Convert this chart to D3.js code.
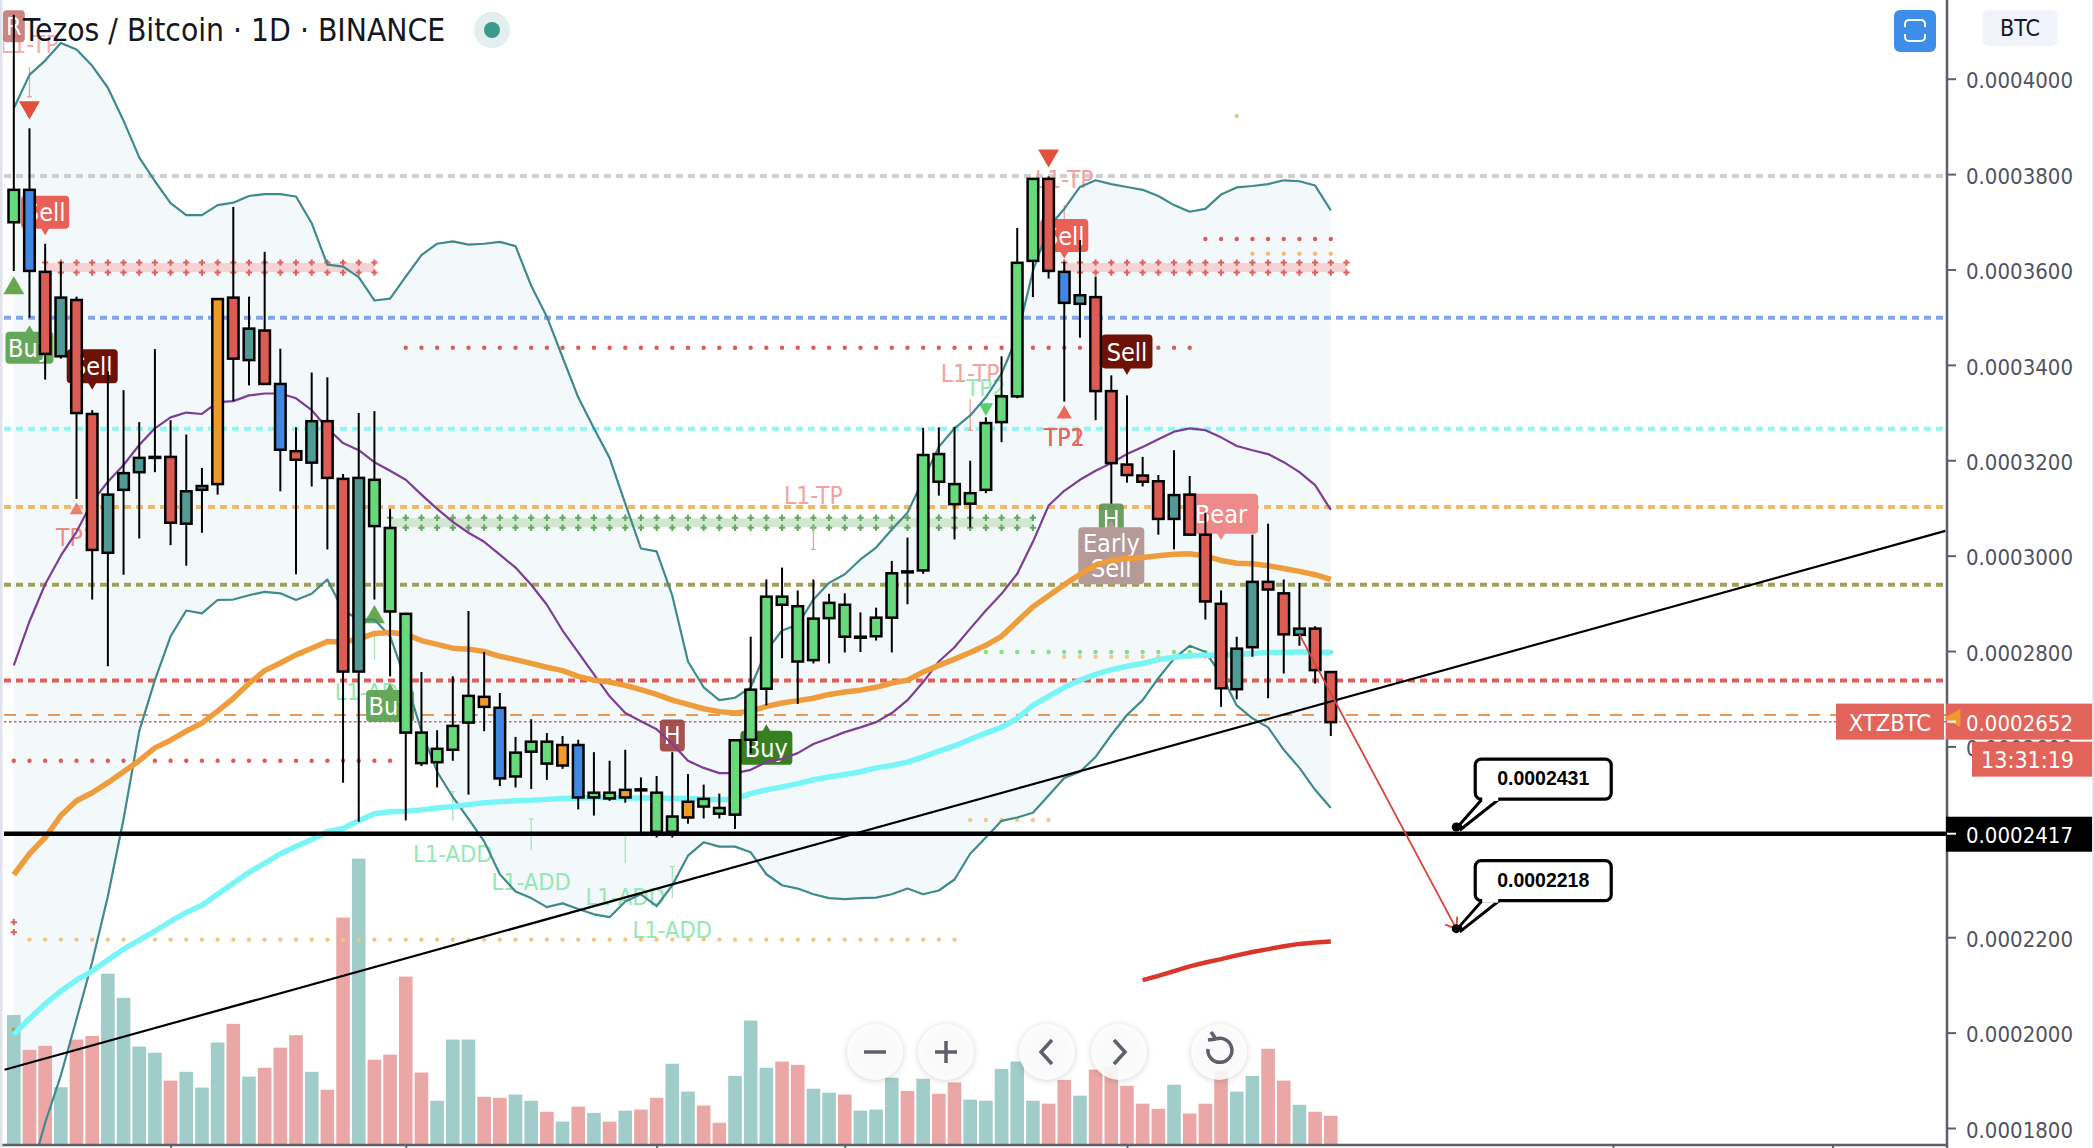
<!DOCTYPE html>
<html>
<head>
<meta charset="utf-8">
<script src="https://cdn.jsdelivr.net/npm/d3@7"></script>
<style>
  html, body { margin: 0; padding: 0; background: #fff; overflow: hidden; }
  text { font-family: "DejaVu Sans Condensed", "DejaVu Sans", sans-serif; }
</style>
</head>
<body>
<svg id="chart" width="2094" height="1148"></svg>
<script>
// all prices are in units of 1e-7 BTC
const candleKinds = [
  "g","b","r","t","r","r","t","t","t","t","r","t","t","o","r","t","r","b","r","t","r","r","t","g","g",
  "g","g","g","g","g","o","b","g","g","g","o","b","g","g","o","t","g","g","o","g","g","g","g","g","g",
  "g","g","g","g","t","g","g","t","g","g","g","g","g","g","g","g","r","b","t","r","r","r","r","r","t",
  "r","r","r","t","t","r","r","t","r","r"
];
const bodyTops = [3767,3767,3595,3541,3536,3297,3128,3173,3205,3207,3207,3135,3146,3538,3541,3476,3472,3360,3219,3282,3282,3161,3163,3159,3058,
  2878,2629,2595,2643,2706,2704,2681,2587,2610,2610,2603,2603,2503,2503,2509,2510,2503,2453,2484,2490,2471,2613,2719,2914,2914,
  2894,2868,2901,2897,2830,2870,2963,2967,3211,3213,3150,3131,3278,3334,3614,3790,3790,3595,3546,3542,3345,3191,3168,3156,3127,
  3128,3044,2899,2805,2945,2945,2921,2847,2847,2756];
const bodyBottoms = [3699,3597,3423,3418,3299,3012,3006,3138,3175,3205,3069,3067,3138,3150,3413,3410,3360,3222,3201,3195,3163,2757,2757,3062,2883,
  2629,2565,2567,2593,2650,2683,2533,2537,2589,2564,2560,2493,2493,2491,2493,2508,2421,2421,2451,2474,2459,2457,2614,2721,2897,
  2778,2781,2869,2830,2828,2831,2870,2965,2969,3155,3108,3109,3138,3280,3334,3618,3597,3530,3528,3345,3194,3169,3155,3077,3077,
  3044,2904,2722,2720,2808,2929,2835,2834,2760,2651];
const highs = [4134,3896,3654,3616,3543,3305,3386,3347,3280,3433,3284,3254,3184,3540,3731,3543,3637,3434,3269,3384,3374,3171,3299,3303,3098,
  2880,2756,2634,2747,2884,2798,2712,2620,2657,2628,2622,2614,2588,2570,2593,2535,2538,2588,2542,2520,2501,2613,2830,2950,2975,
  2927,2950,2920,2921,2881,2891,2989,3038,3268,3269,3270,3199,3290,3418,3687,3790,3795,3616,3662,3585,3378,3336,3207,3169,3221,
  3167,3090,2927,2830,3044,3067,2950,2943,2852,2756];
const lows = [3597,3499,3369,3413,3119,2908,2768,2960,3036,3175,3022,2979,3048,3128,3324,3357,3360,3135,2961,3145,3013,2524,2442,2908,2747,
  2445,2559,2514,2570,2499,2632,2517,2514,2511,2530,2553,2468,2455,2486,2482,2418,2409,2409,2438,2449,2449,2427,2586,2686,2785,
  2689,2774,2774,2797,2798,2822,2797,2898,2962,3126,3034,3059,3131,3238,3330,3542,3581,3323,3457,3284,3109,3153,3145,3044,3013,
  3042,2866,2683,2699,2788,2701,2753,2811,2732,2622];

const bbUpper = [3938,4008,4038,4075,4061,4027,3981,3912,3835,3785,3739,3714,3714,3735,3740,3754,3758,3758,3753,3697,3610,3606,3584,3535,3539,
  3585,3630,3654,3659,3652,3654,3658,3649,3566,3501,3416,3332,3267,3205,3109,3015,3009,2916,2778,2724,2697,2702,2724,2801,2843,
  2855,2908,2943,2961,2992,3017,3055,3090,3159,3228,3267,3294,3332,3382,3459,3597,3689,3727,3773,3787,3779,3773,3767,3754,3735,
  3721,3727,3757,3772,3775,3779,3787,3785,3776,3724];
const bbLower = [1541,1695,1811,1910,2028,2148,2286,2448,2632,2739,2831,2885,2879,2907,2908,2917,2924,2921,2907,2920,2950,2885,2866,2866,2831,
  2739,2632,2547,2494,2448,2401,2332,2296,2282,2263,2271,2259,2248,2242,2275,2290,2265,2309,2371,2399,2390,2390,2378,2332,2309,
  2302,2290,2282,2280,2282,2283,2290,2302,2290,2298,2321,2375,2409,2444,2451,2461,2497,2534,2547,2578,2624,2666,2697,2743,2784,
  2811,2798,2751,2686,2659,2640,2593,2555,2509,2471];
const bbBasis = [2770,2862,2940,3000,3050,3113,3155,3190,3232,3267,3290,3300,3297,3322,3324,3336,3340,3340,3330,3305,3267,3236,3221,3196,3178,
  3159,3128,3098,3071,3048,3029,3002,2975,2939,2897,2843,2797,2751,2705,2670,2653,2636,2605,2570,2555,2544,2544,2551,2567,2574,
  2586,2605,2617,2630,2640,2651,2670,2697,2735,2778,2808,2847,2885,2920,2962,3029,3105,3136,3159,3178,3194,3213,3228,3244,3260,
  3267,3263,3248,3230,3221,3213,3196,3175,3148,3096];
const maOrange = [2331,2375,2409,2455,2486,2503,2524,2547,2570,2597,2613,2632,2649,2674,2701,2732,2759,2775,2792,2806,2820,2819,2825,2837,2839,
  2835,2822,2814,2806,2804,2799,2789,2782,2774,2766,2759,2747,2739,2735,2728,2719,2709,2697,2688,2679,2673,2670,2674,2684,2691,
  2696,2701,2709,2714,2718,2724,2733,2739,2756,2770,2783,2797,2812,2831,2862,2893,2916,2939,2961,2980,2990,2994,2996,3000,3003,
  3004,2999,2990,2984,2983,2979,2973,2967,2960,2950];
const maCyan = [1996,2029,2060,2087,2110,2129,2152,2175,2194,2213,2233,2252,2267,2290,2313,2336,2355,2375,2390,2405,2421,2428,2444,2459,2463,
  2464,2467,2471,2474,2478,2482,2484,2486,2487,2489,2491,2492,2493,2493,2492,2492,2492,2491,2491,2490,2488,2490,2501,2509,2515,
  2522,2530,2536,2541,2547,2555,2560,2567,2578,2590,2601,2615,2628,2640,2659,2686,2705,2724,2739,2751,2761,2768,2774,2782,2787,
  2790,2791,2791,2793,2795,2797,2797,2798,2798,2797];
const maRed = [2110,2119,2129,2139,2147,2154,2162,2169,2175,2181,2186,2189,2191];
const maRedStart = 72;

const volumes = [352,257,268,155,285,295,465,399,266,249,173,197,154,277,328,184,208,263,297,197,148,618,779,230,244,
  457,195,118,285,285,129,126,135,118,88,61,102,85,61,91,94,126,219,143,105,58,186,337,208,225,
  216,151,140,135,91,94,181,145,178,137,168,121,118,205,225,118,110,175,132,203,211,159,110,96,162,
  83,110,200,143,186,260,173,107,88,77];
const volumeUp = [1,0,0,1,0,0,1,1,1,1,0,1,1,1,0,1,0,0,0,1,0,0,1,0,0,
  0,0,1,1,1,0,0,1,1,0,1,0,1,0,1,0,0,1,1,0,0,1,1,1,0,
  0,1,1,0,1,1,1,0,1,0,0,1,1,1,1,1,0,0,1,0,0,0,0,0,1,
  0,0,0,1,1,0,0,1,0,0];

const priceTicks = [4000,3800,3600,3400,3200,3000,2800,2600,2200,2000,1800];
const timeTicks = [10,25,41,53,71,102,116];
const lastPrice = 2652;
const supportPrice = 2417;
const countdown = "13:31:19";
const ticker = "XTZBTC";

const levelPrices = [3796,3499,3266,3102,2939,2738];
const levelColors = ["#cfcfcf","#82a6e8","#93f5ef","#eeb96d","#a3a05a","#df5f58"];

const dotRows = [
  {v:3436,from:25,to:75,c:"#e05a55"},{v:3664,from:76,to:84,c:"#e05a55"},{v:3633,from:79,to:84,c:"#efc070"},
  {v:3922,from:78,to:78,c:"#d8d080"},{v:2798,from:62,to:84,c:"#7fe37f"},{v:2788,from:67,to:76,c:"#f0c88a"},
  {v:2570,from:0,to:24,c:"#e05a55"},{v:2446,from:61,to:66,c:"#f0c88a"},{v:2195,from:1,to:60,c:"#ecc97c"},
  {v:2006,from:0,to:0,c:"#a3a05a"}
];
const crossRows = [
  {v:3604,from:2,to:23,c:"#e0605a",band:"#f5d3d4"},{v:3604,from:67,to:85,c:"#e0605a",band:"#f5d3d4"},
  {v:3069,from:24,to:65,c:"#62a85e",band:"#d3e6d0"},{v:2221,from:0,to:0,c:"#e0605a",band:"none"}
];

const bubbleTexts = ["R","Sell","Sell","Buy","Buy","H","Buy","Sell","Sell","H","Early|Sell","Bear"];
const bubbleIdx = [0,2,5,1,24,42,48,67,71,70,70,77];
const bubblePrice = [4110,3720,3397,3436,2685,2623,2597,3671,3428,3076,3000,3088];
const bubbleStyle = ["r","sell","dsell","buy","buy","hr","dbuy","sell","dsell","hg","early","bear"];

const tpTexts = ["L1-TP","TP1","L1-TP","L1-TP","L1-TP","TP1","TP2"];
const tpIdx = [1,4,51,61,67,67,67];
const tpPrice = [4073,3040,3128,3382,3789,3248,3248];
const tpColor = ["#f4b0ae","#f08a80","#f0a3a0","#f0a3a0","#f0a3a0","#e8665e","#e8665e"];
const addTexts = ["L1-ADD","L1-ADD","L1-ADD","L1-ADD","L1-ADD","TP2"];
const addIdx = [23,28,33,39,42,62];
const addPrice = [2716,2376,2317,2286,2217,3353];

const triangleIdx = [1,0,4,66,62,67,23];
const trianglePrice = [3940,3561,3095,3839,3311,3297,2871];
const triangleUp = [0,1,1,0,0,1,1];
const triangleArea = [190,190,80,190,90,100,190];
const triangleColor = ["#e2503c","#6aa84f","#ee7d6e","#e2503c","#55d06a","#ec6a5c","#6aa84f"];

const arrowIdx = [1,51,61,67,23,28,33,39,42];
const arrowFrom = [4024,3062,3328,3735,2782,2444,2382,2355,2283];
const arrowTo = [3962,3013,3263,3704,2831,2505,2448,2413,2348];
const arrowColor = ["#ee9a92","#ee9a92","#ee9a92","#ee9a92","#9fe3b0","#9fe3b0","#9fe3b0","#9fe3b0","#9fe3b0"];

const trendIdx = [-0.59,123.2];
const trendPrice = [1922,3052];
const projectionIdx = [82,92];
const projectionPrice = [2835,2218];
const calloutIdx = [92,92];
const calloutPrice = [2431,2218];

const navCenters = [875,946,1047,1119,1219];

const fmt = (d) => (d / 1e7).toFixed(7);

const x = d3.scaleLinear().domain([0, 84]).range([13.8, 1330.8]);
const y = d3.scaleLinear().domain([1800, 4000]).range([1128, 78.7]);
const volY = d3.scaleLinear().domain([0, 779]).range([1144, 858.6]);
const idx = d3.range(candleKinds.length);

const svg = d3.select("#chart");
svg.append("defs").append("clipPath").attr("id", "plot")
  .append("rect").attr("x", 3).attr("y", 0).attr("width", 1943).attr("height", 1144);
const plot = svg.append("g").attr("clip-path", "url(#plot)");

// bollinger fill
plot.append("path").datum(idx)
  .attr("fill", "#f1f8f9").attr("fill-opacity", 0.85)
  .attr("d", d3.area().x((i) => x(i)).y0((i) => y(bbLower[i])).y1((i) => y(bbUpper[i])));

// volume
plot.selectAll("rect.vol").data(volumes).enter().append("rect")
  .attr("class", "vol")
  .attr("x", (_, i) => x(i) - 6.8)
  .attr("width", 13.6)
  .attr("y", (d) => volY(d))
  .attr("height", (d) => volY(0) - volY(d))
  .attr("fill", (_, i) => volumeUp[i] ? "#a0cdca" : "#eba6a6");

// horizontal levels
plot.selectAll("line.level").data(levelPrices).enter().append("line")
  .attr("x1", 4).attr("x2", 1946)
  .attr("y1", (d) => y(d)).attr("y2", (d) => y(d))
  .attr("stroke", (_, i) => levelColors[i])
  .attr("stroke-width", 4)
  .attr("stroke-dasharray", "7 5");
plot.append("line").attr("x1", 4).attr("x2", 1946)
  .attr("y1", y(2666)).attr("y2", y(2666))
  .attr("stroke", "#e89a55").attr("stroke-width", 2).attr("stroke-dasharray", "12 10");
plot.append("line").attr("x1", 4).attr("x2", 1946)
  .attr("y1", y(lastPrice)).attr("y2", y(lastPrice))
  .attr("stroke", "#c26a60").attr("stroke-width", 1.5).attr("stroke-dasharray", "2.5 2.5");

// cross bands and dot rows
crossRows.forEach((r) => {
  if (r.band !== "none") {
    plot.append("rect")
      .attr("x", x(r.from)).attr("width", x(r.to) - x(r.from))
      .attr("y", y(r.v) - 4.5).attr("height", 9)
      .attr("fill", r.band);
  }
  const cols = d3.range(r.from, r.to + 1);
  [-1, 1].forEach((side) => {
    plot.append("g").selectAll("path").data(cols).enter().append("path")
      .attr("d", d3.symbol(d3.symbolCross).size(22))
      .attr("transform", (i) => `translate(${x(i)},${y(r.v) + side * 5})`)
      .attr("fill", r.c);
  });
});
dotRows.forEach((r) => {
  plot.append("g").selectAll("circle").data(d3.range(r.from, r.to + 1)).enter().append("circle")
    .attr("cx", (i) => x(i)).attr("cy", y(r.v)).attr("r", 2.2).attr("fill", r.c);
});

// text labels under the candles
plot.selectAll("text.tp").data(tpTexts).enter().append("text")
  .attr("class", "tp")
  .attr("x", (_, i) => x(tpIdx[i])).attr("y", (_, i) => y(tpPrice[i]) + 9)
  .attr("text-anchor", "middle").attr("font-size", 24.5)
  .attr("fill", (_, i) => tpColor[i])
  .text((d) => d);
plot.selectAll("text.add").data(addTexts).enter().append("text")
  .attr("class", "add")
  .attr("x", (_, i) => x(addIdx[i])).attr("y", (_, i) => y(addPrice[i]) + 9)
  .attr("text-anchor", "middle").attr("font-size", 23.5)
  .attr("fill", "#94e8b4")
  .text((d) => d);

// small arrows
plot.selectAll("line.arrow").data(arrowIdx).enter().append("line")
  .attr("x1", (d) => x(d)).attr("x2", (d) => x(d))
  .attr("y1", (_, i) => y(arrowFrom[i])).attr("y2", (_, i) => y(arrowTo[i]))
  .attr("stroke", (_, i) => arrowColor[i]).attr("stroke-width", 1.2);
plot.selectAll("path.arrowhead").data(arrowIdx).enter().append("path")
  .attr("d", "M-2.5,0H2.5")
  .attr("transform", (d, i) => `translate(${x(d)},${y(arrowTo[i])})`)
  .attr("stroke", (_, i) => arrowColor[i]).attr("stroke-width", 1.2);

const bubbleKinds = {
  r: {fill: "#c46f6f", w: 22, h: 32, op: 0.85},
  sell: {fill: "#ea5f56", w: 48, h: 33, op: 1, tip: 1},
  dsell: {fill: "#6e1208", w: 51, h: 34, op: 1, tip: 1},
  buy: {fill: "#66a85a", w: 48, h: 32, op: 1, tip: -1},
  dbuy: {fill: "#38801f", w: 52, h: 34, op: 1, tip: -1},
  hr: {fill: "#9c3f3f", w: 25, h: 32, op: 0.9},
  hg: {fill: "#5f9650", w: 25, h: 32, op: 0.9},
  early: {fill: "#b59a98", w: 66, h: 57, op: 1, tip: -1},
  bear: {fill: "#ef8a8a", w: 74, h: 40, op: 1, tip: 1}
};
bubbleTexts.forEach((label, i) => {
  const k = bubbleKinds[bubbleStyle[i]];
  const g = plot.append("g")
    .attr("transform", `translate(${x(bubbleIdx[i])},${y(bubblePrice[i])})`)
    .attr("opacity", k.op);
  g.append("rect")
    .attr("x", -k.w / 2).attr("y", -k.h / 2)
    .attr("width", k.w).attr("height", k.h)
    .attr("rx", 4).attr("fill", k.fill);
  if (k.tip) {
    g.append("path")
      .attr("d", d3.symbol(d3.symbolTriangle).size(40))
      .attr("transform", `translate(0,${k.tip * (k.h / 2 + 1)}) rotate(${k.tip > 0 ? 180 : 0})`)
      .attr("fill", k.fill);
  }
  const lines = label.split("|");
  g.selectAll("text").data(lines).enter().append("text")
    .attr("text-anchor", "middle")
    .attr("y", (_, j) => (j - (lines.length - 1) / 2) * 25 + 9)
    .attr("font-size", 25).attr("fill", "#fff")
    .text((t) => t);
});

// triangles
plot.selectAll("path.tri").data(triangleIdx).enter().append("path")
  .attr("class", "tri")
  .attr("d", (_, i) => d3.symbol(d3.symbolTriangle).size(triangleArea[i])())
  .attr("transform", (d, i) => `translate(${x(d)},${y(trianglePrice[i])}) rotate(${triangleUp[i] ? 0 : 180})`)
  .attr("fill", (_, i) => triangleColor[i]);

// indicator lines
const seriesLine = d3.line().x((i) => x(i));
const drawLine = (values, color, width) => plot.append("path").datum(idx)
  .attr("fill", "none").attr("stroke", color).attr("stroke-width", width)
  .attr("stroke-linejoin", "round")
  .attr("d", seriesLine.y((i) => y(values[i])));
drawLine(bbUpper, "#3f8a8c", 2.2);
drawLine(bbLower, "#3f8a8c", 2.2);
drawLine(bbBasis, "#7d3c98", 2.2);
drawLine(maOrange, "#ef9d3c", 5.5);
drawLine(maCyan, "#7af5f7", 5.5);
plot.append("path").datum(maRed)
  .attr("fill", "none").attr("stroke", "#d9362c").attr("stroke-width", 4.5)
  .attr("d", d3.line().x((_, i) => x(maRedStart + i)).y((d) => y(d)));

// candles
const candleFill = {g: "#66d97a", r: "#dc5b52", t: "#4f9a94", b: "#3f87e0", o: "#ef9a2b"};
const candles = plot.append("g").selectAll("g").data(idx).enter().append("g");
candles.append("line")
  .attr("x1", (i) => x(i)).attr("x2", (i) => x(i))
  .attr("y1", (i) => y(highs[i])).attr("y2", (i) => y(lows[i]))
  .attr("stroke", "#000").attr("stroke-width", 2);
candles.append("rect")
  .attr("x", (i) => x(i) - 5.3).attr("width", 10.6)
  .attr("y", (i) => y(bodyTops[i]))
  .attr("height", (i) => Math.max(1, y(bodyBottoms[i]) - y(bodyTops[i])))
  .attr("fill", (i) => candleFill[candleKinds[i]])
  .attr("stroke", "#000").attr("stroke-width", 2.5);

// support line and trend line
plot.append("line").attr("x1", 4).attr("x2", 1946)
  .attr("y1", y(supportPrice)).attr("y2", y(supportPrice))
  .attr("stroke", "#000").attr("stroke-width", 4.5);
plot.append("line")
  .attr("x1", x(trendIdx[0])).attr("x2", x(trendIdx[1]))
  .attr("y1", y(trendPrice[0])).attr("y2", y(trendPrice[1]))
  .attr("stroke", "#000").attr("stroke-width", 2.2);

// projection arrow
plot.append("line")
  .attr("x1", x(projectionIdx[0])).attr("x2", x(projectionIdx[1]))
  .attr("y1", y(projectionPrice[0])).attr("y2", y(projectionPrice[1]))
  .attr("stroke", "#d9433a").attr("stroke-width", 1.8);
const tipX = x(projectionIdx[1]), tipY = y(projectionPrice[1]);
plot.append("path")
  .attr("d", `M${tipX - 11},${tipY - 4}L${tipX},${tipY}L${tipX + 1},${tipY - 12}`)
  .attr("fill", "none").attr("stroke", "#d9433a").attr("stroke-width", 1.8);

// callouts
const callouts = plot.selectAll("g.callout").data(calloutPrice).enter().append("g")
  .attr("class", "callout")
  .attr("transform", (d, i) => `translate(${x(calloutIdx[i])},${y(d)})`);
callouts.append("path")
  .attr("d", "M4,-3L26,-28L43,-28L5,2Z")
  .attr("fill", "#fff").attr("stroke", "#000").attr("stroke-width", 3);
callouts.append("rect")
  .attr("x", 19).attr("y", -68).attr("width", 136).attr("height", 40).attr("rx", 6)
  .attr("fill", "#fff").attr("stroke", "#000").attr("stroke-width", 3.2);
callouts.append("rect")
  .attr("x", 26).attr("y", -31).attr("width", 16).attr("height", 5).attr("fill", "#fff");
callouts.append("circle").attr("r", 4.5).attr("fill", "#000");
callouts.append("text")
  .attr("x", 87).attr("y", -42)
  .attr("text-anchor", "middle")
  .attr("font-size", 19.5).attr("font-weight", "bold")
  .style("font-family", "'Liberation Sans', Arial, sans-serif")
  .attr("fill", "#000")
  .text((d) => fmt(d));

// axes
const yAxis = d3.axisRight(y).tickValues(priceTicks).tickFormat(fmt).tickSize(9).tickPadding(10);
const yAxisG = svg.append("g").attr("transform", "translate(1947,0)").call(yAxis);
yAxisG.select(".domain").remove();
yAxisG.selectAll("line").attr("stroke", "#5d606b").attr("stroke-width", 2);
yAxisG.selectAll("text").attr("font-size", 22).attr("fill", "#50535e").attr("dy", "0.42em")
  .style("font-family", "'DejaVu Sans Condensed','DejaVu Sans',sans-serif");
svg.append("line").attr("x1", 1947).attr("x2", 1947).attr("y1", 0).attr("y2", 1148)
  .attr("stroke", "#5d606b").attr("stroke-width", 2.5);

const xAxis = d3.axisBottom(x).tickValues(timeTicks).tickFormat("").tickSize(5);
const xAxisG = svg.append("g").attr("transform", "translate(0,1144)").call(xAxis);
xAxisG.select(".domain").remove();
xAxisG.selectAll("line").attr("stroke", "#5d606b").attr("stroke-width", 2);
svg.append("line").attr("x1", 0).attr("x2", 1948).attr("y1", 1145).attr("y2", 1145)
  .attr("stroke", "#5d606b").attr("stroke-width", 2.5);

// right hand price tags
const tag = (tx, ty, w, h, fill, label, textX, anchor, size) => {
  svg.append("rect").attr("x", tx).attr("y", ty).attr("width", w).attr("height", h).attr("fill", fill);
  svg.append("text").attr("x", textX).attr("y", ty + h / 2 + 9)
    .attr("text-anchor", anchor).attr("font-size", size).attr("fill", "#fff").text(label);
};
tag(1836, y(lastPrice) - 18, 108, 36, "#e2645a", ticker, 1890, "middle", 23.5);
tag(1946, y(lastPrice) - 18, 146, 36, "#e2645a", fmt(lastPrice), 1966, "start", 22);
svg.append("path")
  .attr("d", d3.symbol(d3.symbolTriangle).size(150))
  .attr("transform", `translate(1955,${y(2666) + 3}) rotate(-90)`)
  .attr("fill", "#f09a2e");
tag(1972, y(lastPrice) + 20, 120, 35, "#e2645a", countdown, 2074, "end", 23);
tag(1946, y(supportPrice) - 17, 146, 35, "#000", fmt(supportPrice), 1966, "start", 22);
svg.append("line").attr("x1", 1947).attr("x2", 1956)
  .attr("y1", y(lastPrice)).attr("y2", y(lastPrice)).attr("stroke", "#fff").attr("stroke-width", 2);
svg.append("line").attr("x1", 1947).attr("x2", 1956)
  .attr("y1", y(supportPrice)).attr("y2", y(supportPrice)).attr("stroke", "#fff").attr("stroke-width", 2);

// header
svg.append("text").attr("x", 23).attr("y", 41)
  .attr("font-size", 31.5).attr("fill", "#131722")
  .text("Tezos / Bitcoin \u00b7 1D \u00b7 BINANCE");
svg.append("circle").attr("cx", 492).attr("cy", 30).attr("r", 18).attr("fill", "#e3efee");
svg.append("circle").attr("cx", 492).attr("cy", 30).attr("r", 8).attr("fill", "#3a9a8c");

// top right buttons
svg.append("rect").attr("x", 1894).attr("y", 10).attr("width", 42).attr("height", 42).attr("rx", 6).attr("fill", "#3d8ee8");
svg.append("path")
  .attr("d", "M1905,27v-3a4,4 0 0 1 4,-4h12a4,4 0 0 1 4,4v3M1905,34v3a4,4 0 0 0 4,4h12a4,4 0 0 0 4,-4v-3")
  .attr("fill", "none").attr("stroke", "#fff").attr("stroke-width", 2);
svg.append("rect").attr("x", 1983).attr("y", 10).attr("width", 74).attr("height", 36).attr("rx", 5).attr("fill", "#f0f3fa");
svg.append("text").attr("x", 2020).attr("y", 36).attr("text-anchor", "middle")
  .attr("font-size", 23).attr("fill", "#131722").text("BTC");

// zoom and scroll buttons
const nav = svg.selectAll("g.nav").data(navCenters).enter().append("g")
  .attr("class", "nav")
  .attr("transform", (d) => `translate(${d},1052)`);
nav.append("circle").attr("r", 28).attr("fill", "#fff").attr("fill-opacity", 0.88)
  .style("filter", "drop-shadow(0 1px 3px rgba(0,0,0,0.18))");
const navIcons = ["M-11,0H11", "M-11,0H11M0,-11V11", "M5,-12L-6,0L5,12", "M-5,-12L6,0L-5,12",
  "M-3,-13A12,12 0 1 1 -11,-3M-3,-13L-8,-20M-3,-13L-11,-12"];
nav.append("path")
  .attr("d", (_, i) => navIcons[i])
  .attr("fill", "none").attr("stroke", "#5d606b").attr("stroke-width", 3.5);

// window edges
svg.append("rect").attr("x", 0).attr("y", 0).attr("width", 2.5).attr("height", 1148).attr("fill", "#e0e3eb");
svg.append("rect").attr("x", 2092).attr("y", 0).attr("width", 2).attr("height", 1148).attr("fill", "#e0e3eb");
</script>
</body>
</html>
